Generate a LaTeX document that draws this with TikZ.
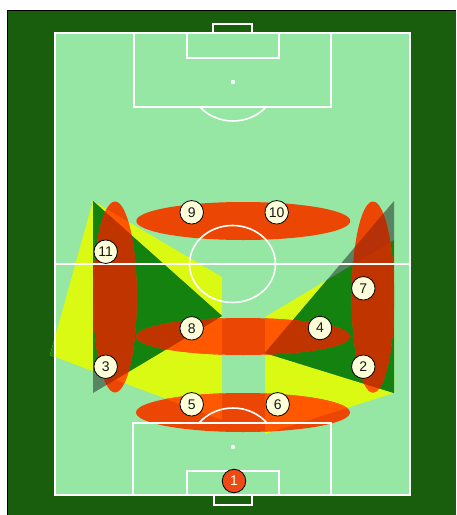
\documentclass[tikz,border=0pt]{standalone}
\usepackage{fontspec}
\setmainfont{Liberation Sans}
\definecolor{bgdark}{RGB}{24,94,12}
\definecolor{pitch}{RGB}{150,230,164}
\definecolor{yel}{RGB}{218,250,20}
\definecolor{dkg}{RGB}{20,130,14}
\definecolor{gry}{RGB}{88,132,100}
\definecolor{elg}{RGB}{236,70,4}
\definecolor{ely}{RGB}{255,88,0}
\definecolor{eldg}{RGB}{192,52,0}
\definecolor{elgr}{RGB}{182,48,8}
\definecolor{cream}{RGB}{255,255,218}
\definecolor{tokred}{RGB}{238,74,24}
\definecolor{numcol}{RGB}{25,25,25}
\newcommand\yellowA{(93,201) -- (222,277) -- (222,420) -- (50,355) -- cycle}
\newcommand\yellowB{(394,240) -- (265,317) -- (265,434) -- (394,393) -- cycle}
\newcommand\triA{(93,201) -- (222,316) -- (93,393) -- cycle}
\newcommand\triB{(394,201) -- (265,353) -- (394,393) -- cycle}
\newcommand\paintregions[3]{%
  \fill[#1] \yellowA; \fill[#1] \yellowB;
  \fill[#3] \triA; \fill[#3] \triB;
  \begin{scope}\clip \yellowA; \fill[#2] \triA;\end{scope}
  \begin{scope}\clip \yellowB; \fill[#2] \triB;\end{scope}
}
\tikzset{
  lines/.style={draw=white, line width=1.6pt},
  token/.style={circle, draw=black, line width=0.8pt, fill=cream, inner sep=0pt,
    minimum size=23.5pt, text=numcol, font=\fontsize{14}{14}\selectfont},
  keeper/.style={token, fill=tokred, text=cream},
}
\begin{document}
\begin{tikzpicture}[x=1pt,y=-1pt]
\useasboundingbox (0,0) rectangle (456,515);
% background
\fill[bgdark] (7,10) rectangle (456,515);
\draw[black, line width=1pt] (7.5,515) -- (7.5,10.5) -- (456,10.5);
% pitch
\fill[pitch] (55,33) rectangle (410,495);
% zones
\paintregions{yel}{dkg}{gry}
\begin{scope}
  \clip (0,0) rectangle (55,515);
  \fill[dkg] \yellowA;
\end{scope}
% ellipses
\begin{scope}
  \clip (243.3,221) ellipse [x radius=107pt, y radius=19pt]
        (243.3,336.5) ellipse [x radius=107pt, y radius=18.5pt]
        (243,412.5) ellipse [x radius=107pt, y radius=19.5pt]
        (115,297) ellipse [x radius=21.7pt, y radius=95.5pt]
        (373,297) ellipse [x radius=21.2pt, y radius=95.5pt];
  \fill[elg] (0,0) rectangle (456,515);
  \paintregions{ely}{eldg}{elgr}
\end{scope}
% pitch lines
\draw[lines] (55,33) rectangle (410,495);
\draw[lines] (55,264) -- (410,264);
\draw[lines] (232.5,264) ellipse [x radius=43pt, y radius=38.5pt];
% top end
\draw[lines] (213,33) -- (213,24) -- (252,24) -- (252,33);
\draw[lines] (134,33) rectangle (331,107);
\draw[lines] (187,33) rectangle (279,58);
\fill[white] (233,82) circle [radius=2.2pt];
\begin{scope}
  \clip (55,107) rectangle (410,264);
  \draw[lines] (233,82) ellipse [x radius=43pt, y radius=39pt];
\end{scope}
% bottom end
\draw[lines] (214,495) -- (214,505) -- (252,505) -- (252,495);
\draw[lines] (133,423) rectangle (331,495);
\draw[lines] (187,471) rectangle (279,495);
\fill[white] (233,447) circle [radius=2.2pt];
\begin{scope}
  \clip (55,264) rectangle (410,423);
  \draw[lines] (233,447) ellipse [x radius=43pt, y radius=39pt];
\end{scope}
% players
\node[keeper] (p1) at (234,481) {1};
\node[token] (p9) at (191.7,212.3) {9};
\node[token] (p10) at (276.7,212.3) {10};
\node[token] (p11) at (105.7,251.7) {11};
\node[token] (p3) at (105.7,366.7) {3};
\node[token] (p8) at (191.7,328.3) {8};
\node[token] (p4) at (320,328) {4};
\node[token] (p7) at (363.3,288.3) {7};
\node[token] (p2) at (363.3,366.7) {2};
\node[token] (p5) at (191.7,404.3) {5};
\node[token] (p6) at (277.7,404.3) {6};
\end{tikzpicture}
\end{document}
